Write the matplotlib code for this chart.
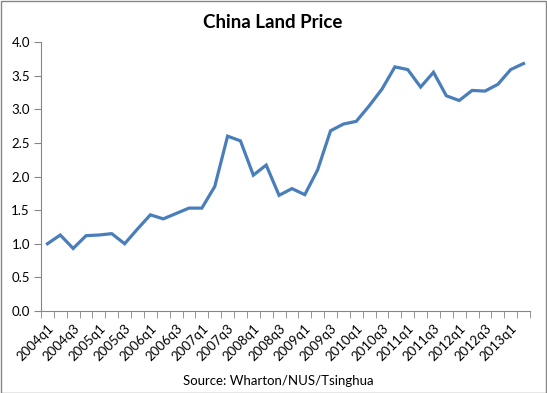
import matplotlib
matplotlib.use("Agg")
import matplotlib.pyplot as plt
import numpy as np

# quarterly land price index, 2004q1 .. 2013q2
quarters = [f"{y}q{q}" for y in range(2004, 2014) for q in range(1, 5)][:38]
price = [1.00, 1.13, 0.93, 1.12, 1.13, 1.15, 1.00, 1.22, 1.43, 1.37,
         1.45, 1.53, 1.53, 1.85, 2.60, 2.53, 2.02, 2.17, 1.72, 1.82,
         1.73, 2.10, 2.68, 2.78, 2.82, 3.05, 3.30, 3.63, 3.59, 3.33,
         3.55, 3.20, 3.13, 3.28, 3.27, 3.37, 3.59, 3.68]

plt.rcParams['font.family'] = ['Lato', 'DejaVu Sans']

fig = plt.figure(figsize=(5.47, 3.93), dpi=100)
ax = fig.add_axes([41/547, 1 - 311/393, 489/547, 269/393])

x = np.arange(len(price))
ax.plot(x, price, color='#4A7EBB', linewidth=2.3, solid_joinstyle='miter')

ax.set_xlim(-0.5, len(price) - 0.5)
ax.set_ylim(0, 4.0)
ax.set_yticks(np.arange(0, 4.01, 0.5))
ax.set_yticklabels([f"{v:.1f}" for v in np.arange(0, 4.01, 0.5)], fontsize=9.5)

ax.set_xticks(x[::2])
ax.set_xticklabels(quarters[::2], rotation=45, ha='right', rotation_mode='anchor', fontsize=9.5)
ax.set_xticks(np.arange(-0.5, len(price)), minor=True)
ax.tick_params(axis='x', which='major', length=0, pad=8)
ax.tick_params(axis='x', which='minor', length=5, color='#868686')
ax.tick_params(axis='y', length=5, color='#868686', pad=3)

for s in ['top', 'right']:
    ax.spines[s].set_visible(False)
for s in ['left', 'bottom']:
    ax.spines[s].set_color('#868686')

fig.text(273/547, 1 - 22/393, "China Land Price", ha='center', va='center',
         fontsize=13.5, fontweight='bold')
fig.text(278/547, 1 - 381/393, "Source: Wharton/NUS/Tsinghua", ha='center', va='center',
         fontsize=9.5)

border = plt.Rectangle((0.001, 0.001), 0.997, 0.997, transform=fig.transFigure,
                       fill=False, edgecolor='#868686', linewidth=1)
fig.patches.append(border)

fig.savefig("out.png", dpi=100)
